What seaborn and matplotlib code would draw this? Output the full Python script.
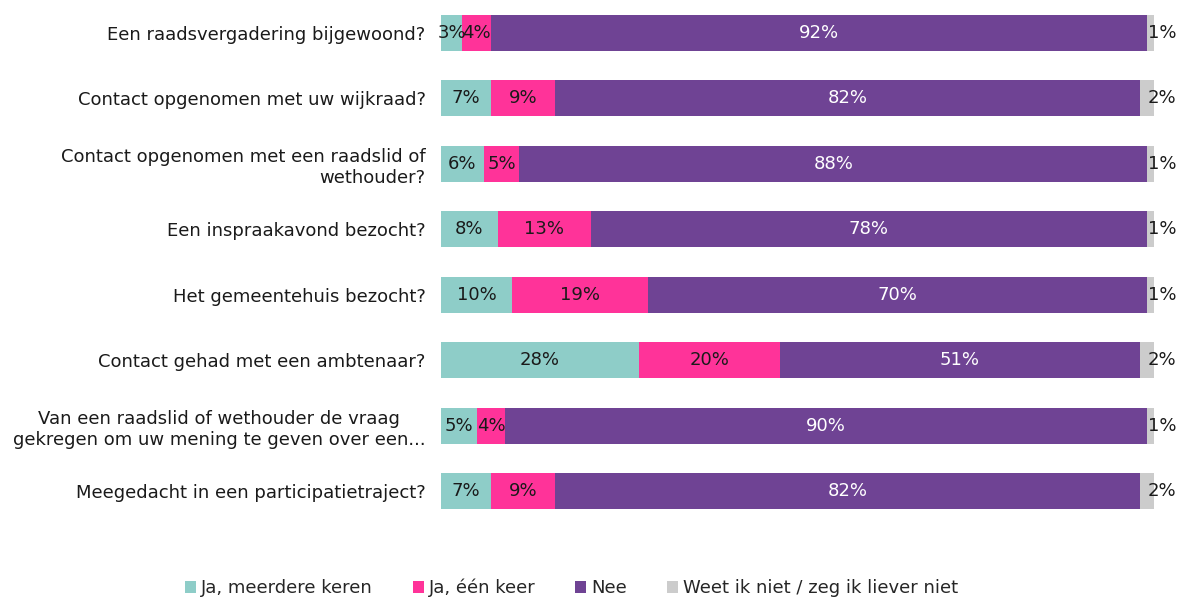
import numpy as np
import pandas as pd
import matplotlib.pyplot as plt
import seaborn as sns
from matplotlib.patches import Patch

# data
questions = [
    "Een raadsvergadering bijgewoond?",
    "Contact opgenomen met uw wijkraad?",
    "Contact opgenomen met een raadslid of\nwethouder?",
    "Een inspraakavond bezocht?",
    "Het gemeentehuis bezocht?",
    "Contact gehad met een ambtenaar?",
    "Van een raadslid of wethouder de vraag\ngekregen om uw mening te geven over een...",
    "Meegedacht in een participatietraject?",
]
categories = ["Ja, meerdere keren", "Ja, één keer", "Nee", "Weet ik niet / zeg ik liever niet"]
ja_meerdere = [3, 7, 6, 8, 10, 28, 5, 7]
ja_een = [4, 9, 5, 13, 19, 20, 4, 9]
nee = [92, 82, 88, 78, 70, 51, 90, 82]
weet_niet = [1, 2, 1, 1, 1, 2, 1, 2]

colors = ["#8ECDC8", "#FF3399", "#6F4394", "#CCCCCC"]
text_colors = ["#1a1a1a", "#1a1a1a", "white", "#1a1a1a"]

sns.set_theme(style="white")
plt.rcParams['font.family'] = ['DejaVu Sans']
FS = 13

vals = np.array([ja_meerdere, ja_een, nee, weet_niet], dtype=float)
widths = vals / vals.sum(axis=0) * 100  # normalise each row to 100%
cum = np.cumsum(widths, axis=0)

fig = plt.figure(figsize=(11.79, 5.99), dpi=100)
ax = fig.add_axes([0.374, 0.125, 0.605, 0.875])

# stacked bars: draw cumulative totals back to front
for i in range(3, -1, -1):
    df = pd.DataFrame({"q": questions, "v": cum[i]})
    sns.barplot(data=df, x="v", y="q", orient="h", color=colors[i],
                saturation=1, width=0.55, ax=ax, edgecolor="none")

for r in range(len(questions)):
    for i in range(4):
        start = cum[i][r] - widths[i][r]
        label = f"{int(vals[i][r])}%"
        if i == 3:
            ax.text(cum[i][r] - 0.9, r, label, ha="left", va="center",
                    fontsize=FS, color=text_colors[i], clip_on=False)
        else:
            ax.text(start + widths[i][r] / 2, r, label, ha="center", va="center",
                    fontsize=FS, color=text_colors[i])

ax.set_xlim(0, 100)
ax.set_ylim(7.5, -0.5)
ax.set_xlabel("")
ax.set_ylabel("")
ax.set_xticks([])
ax.tick_params(axis="y", length=0, pad=11, labelsize=FS)
for lab in ax.get_yticklabels():
    lab.set_color("#1a1a1a")
ax.get_yticklabels()[6].set_multialignment("center")
sns.despine(ax=ax, left=True, bottom=True)

handles = [Patch(facecolor=c, edgecolor="none", label=l) for c, l in zip(colors, categories)]
fig.legend(handles=handles, loc="center", bbox_to_anchor=(0.485, 0.018), ncol=4,
           frameon=False, fontsize=FS, handlelength=0.6, handleheight=0.7,
           handletextpad=0.3, columnspacing=2.2)

fig.savefig("out.png", dpi=100)
